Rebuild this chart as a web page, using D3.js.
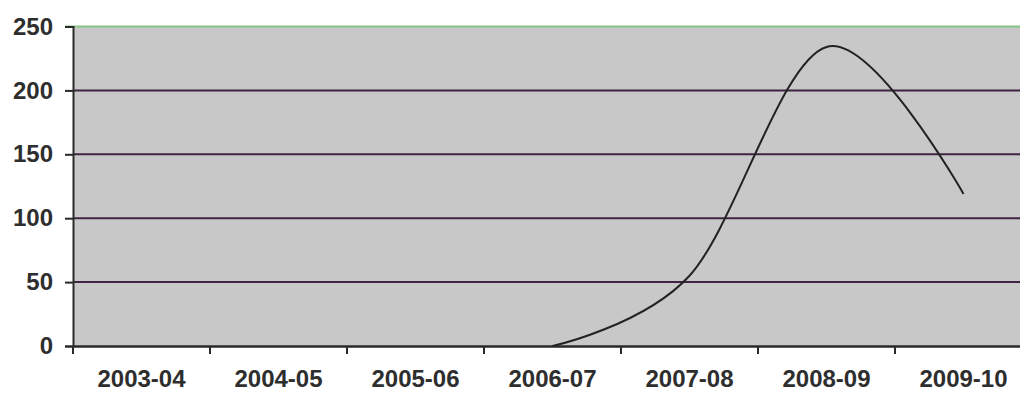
<!DOCTYPE html>
<html><head><meta charset="utf-8">
<script src="https://cdn.jsdelivr.net/npm/d3@7"></script>
<style>body{margin:0;background:#fff}svg{display:block}</style>
</head><body>
<svg id="c" width="1020" height="398"></svg>
<script>
const categories = ["2003-04","2004-05","2005-06","2006-07","2007-08","2008-09","2009-10"];
const values = [null, null, null, 0, 55, 234, 119];
const yTicks = [0, 50, 100, 150, 200, 250];

(function(){
const svg = d3.select("#c");
const mL = 73, mR = 1032, mT = 26.5, mB = 346;
const x = d3.scaleBand().domain(categories).range([mL, mR]);
const y = d3.scaleLinear().domain([0, 250]).range([mB, mT]);

svg.append("rect").attr("x", mL).attr("y", mT).attr("width", mR - mL).attr("height", mB - mT).attr("fill", "#c8c8c8");

// gridlines
svg.append("g").selectAll("line").data(yTicks.filter(d => d > 0 && d < 250)).join("line")
  .attr("x1", mL).attr("x2", mR).attr("y1", d => y(d)).attr("y2", d => y(d))
  .attr("stroke", "#3e2440").attr("stroke-width", 2);
// top line
svg.append("line").attr("x1", mL - 8).attr("x2", mR).attr("y1", y(250)).attr("y2", y(250))
  .attr("stroke", "#86c486").attr("stroke-width", 2);

// y axis
const yAxis = svg.append("g").attr("transform", `translate(${mL},0)`)
  .call(d3.axisLeft(y).tickValues(yTicks).tickSize(8).tickPadding(12));
yAxis.select(".domain").attr("stroke", "#2a2a2a").attr("stroke-width", 2);
yAxis.selectAll(".tick line").attr("stroke", "#2a2a2a").attr("stroke-width", 2);
yAxis.selectAll(".tick text").attr("fill", "#2e2e2e").style("font", "bold 24px 'Liberation Sans', Arial, sans-serif");

// x axis
const xAxis = svg.append("g").attr("transform", `translate(0,${mB})`)
  .call(d3.axisBottom(x).tickSize(0).tickPadding(24));
xAxis.select(".domain").attr("stroke", "#2a2a2a").attr("stroke-width", 2.5);
xAxis.selectAll(".tick text").attr("fill", "#2e2e2e").style("font", "bold 24px 'Liberation Sans', Arial, sans-serif");
// boundary tick marks
svg.append("g").selectAll("line").data(categories).join("line")
  .attr("x1", d => x(d)).attr("x2", d => x(d)).attr("y1", mB).attr("y2", mB + 8)
  .attr("stroke", "#2a2a2a").attr("stroke-width", 2);

// line
const pts = categories.map((c, i) => ({c, v: values[i]})).filter(d => d.v !== null);
const line = d3.line().x(d => x(d.c) + x.bandwidth() / 2).y(d => y(d.v)).curve(d3.curveCardinal.tension(0));
svg.append("path").datum(pts).attr("d", line).attr("fill", "none").attr("stroke", "#222").attr("stroke-width", 2);
})();
</script>
</body></html>
